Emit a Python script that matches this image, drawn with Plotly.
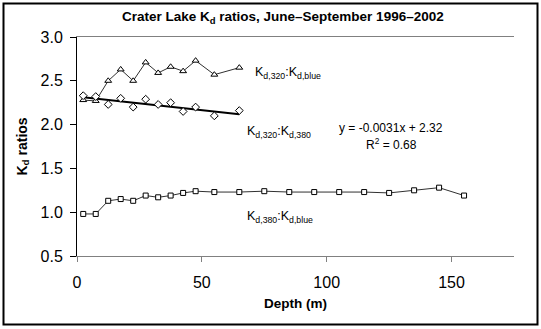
import plotly.graph_objects as go

# Depths (m) for each profile sample
depth_blue = [2.5, 7.5, 12.5, 17.5, 22.5, 27.5, 32.5, 37.5, 42.5, 47.5, 55, 65]
depth_380 = [2.5, 7.5, 12.5, 17.5, 22.5, 27.5, 32.5, 37.5, 42.5, 47.5, 55, 65]
depth_deep = [2.5, 7.5, 12.5, 17.5, 22.5, 27.5, 32.5, 37.5, 42.5, 47.5, 55, 65,
              75, 85, 95, 105, 115, 125, 135, 145, 155]

# Kd,320 : Kd,blue
ratio_320_blue = [2.28, 2.27, 2.50, 2.63, 2.50, 2.71, 2.59, 2.66, 2.61, 2.73, 2.57, 2.65]
# Kd,320 : Kd,380
ratio_320_380 = [2.33, 2.32, 2.23, 2.30, 2.20, 2.29, 2.23, 2.25, 2.15, 2.20, 2.10, 2.16]
# Kd,380 : Kd,blue
ratio_380_blue = [0.98, 0.98, 1.13, 1.15, 1.13, 1.19, 1.17, 1.19, 1.22, 1.24, 1.23, 1.23,
                  1.24, 1.23, 1.23, 1.23, 1.23, 1.22, 1.25, 1.28, 1.19]

# Linear fit for Kd,320:Kd,380
fit_slope = -0.0031
fit_intercept = 2.32
fit_r2 = 0.68
fit_x = [depth_380[0], depth_380[-1]]
fit_y = [fit_slope * x + fit_intercept for x in fit_x]

x_ticks = [0, 50, 100, 150]
y_ticks = [0.5, 1.0, 1.5, 2.0, 2.5, 3.0]

FONT = "Liberation Sans, Arial, sans-serif"

fig = go.Figure()

def series(x, y, symbol, size):
    return go.Scatter(
        x=x, y=y, mode="lines+markers",
        line=dict(color="#303030", width=1),
        marker=dict(symbol=symbol, size=size, color="white",
                    line=dict(color="black", width=1)),
        showlegend=False, hoverinfo="x+y",
    )

fig.add_trace(go.Scatter(x=fit_x, y=fit_y, mode="lines",
                         line=dict(color="black", width=2),
                         showlegend=False, hoverinfo="skip"))
fig.add_trace(series(depth_blue, ratio_320_blue, "triangle-up", 6))
fig.add_trace(go.Scatter(
    x=depth_380, y=ratio_320_380, mode="markers",
    marker=dict(symbol="diamond", size=6, color="white",
                line=dict(color="black", width=1)),
    showlegend=False))
fig.add_trace(series(depth_deep, ratio_380_blue, "square", 5))

fig.update_layout(
    width=541, height=329,
    margin=dict(l=77, r=27, t=37, b=73),
    paper_bgcolor="white", plot_bgcolor="white",
    font=dict(family=FONT, color="black"),
    xaxis=dict(
        range=[0, 175], tickvals=x_ticks, ticks="outside", ticklen=5,
        tickcolor="#808080", showline=True, linecolor="#808080", linewidth=1,
        mirror=True, showgrid=False, zeroline=False,
        tickfont=dict(size=16, family=FONT), ticklabelstandoff=7,
    ),
    yaxis=dict(
        range=[0.5, 3.0], tickvals=y_ticks, tickformat=".1f", ticks="outside",
        ticklen=6, tickcolor="black", showline=True, linecolor="black",
        linewidth=1, showgrid=False, zeroline=False,
        tickfont=dict(size=16, family=FONT), ticklabelstandoff=4,
    ),
    yaxis2=dict(
        overlaying="y", side="right", matches="y", range=[0.5, 3.0],
        tickvals=y_ticks, ticks="inside", ticklen=5, tickcolor="black",
        showline=True, linecolor="black", linewidth=1, showticklabels=False,
        showgrid=False, zeroline=False,
    ),
)

ann = []
ann.append(dict(text="<b>Crater Lake K<sub>d</sub> ratios, June–September 1996–2002</b>",
                xref="paper", yref="paper", x=(283 - 77) / 437, y=(256 - 17) / 219,
                xanchor="center", yanchor="middle", showarrow=False,
                font=dict(size=13.5, family=FONT)))
ann.append(dict(text="<b>K<sub>d</sub> ratios</b>", textangle=-90,
                xref="paper", yref="paper", x=(22 - 77) / 437, y=0.5,
                xanchor="center", yanchor="middle", showarrow=False,
                font=dict(size=14, family=FONT)))
ann.append(dict(text="<b>Depth (m)</b>",
                xref="paper", yref="paper", x=0.5, y=(256 - 303) / 219,
                xanchor="center", yanchor="middle", showarrow=False,
                font=dict(size=13.5, family=FONT)))

label_font = dict(size=12.5, family=FONT)
ann.append(dict(text="K<sub>d,320</sub>:K<sub>d,blue</sub>", x=70.3, y=2.59,
                xanchor="left", yanchor="middle", showarrow=False, font=label_font))
ann.append(dict(text="K<sub>d,320</sub>:K<sub>d,380</sub>", x=67.3, y=1.92,
                xanchor="left", yanchor="middle", showarrow=False, font=label_font))
ann.append(dict(text="K<sub>d,380</sub>:K<sub>d,blue</sub>", x=67.3, y=0.95,
                xanchor="left", yanchor="middle", showarrow=False, font=label_font))
ann.append(dict(text=f"y = {fit_slope:.4f}x + {fit_intercept:.2f}", x=125.8, y=1.965,
                xanchor="center", yanchor="middle", showarrow=False,
                font=dict(size=12, family=FONT)))
ann.append(dict(text=f"R<sup>2</sup> = {fit_r2:.2f}", x=126, y=1.78,
                xanchor="center", yanchor="middle", showarrow=False,
                font=dict(size=12, family=FONT)))
fig.update_layout(annotations=ann)

# Chart frame
fig.add_shape(type="rect", xref="paper", yref="paper",
              x0=(3.5 - 77) / 437, x1=(537.5 - 77) / 437,
              y0=(256 - 324.5) / 219, y1=(256 - 3.5) / 219,
              line=dict(color="black", width=2), fillcolor="rgba(0,0,0,0)",
              layer="below")

fig.write_html("out.html")
